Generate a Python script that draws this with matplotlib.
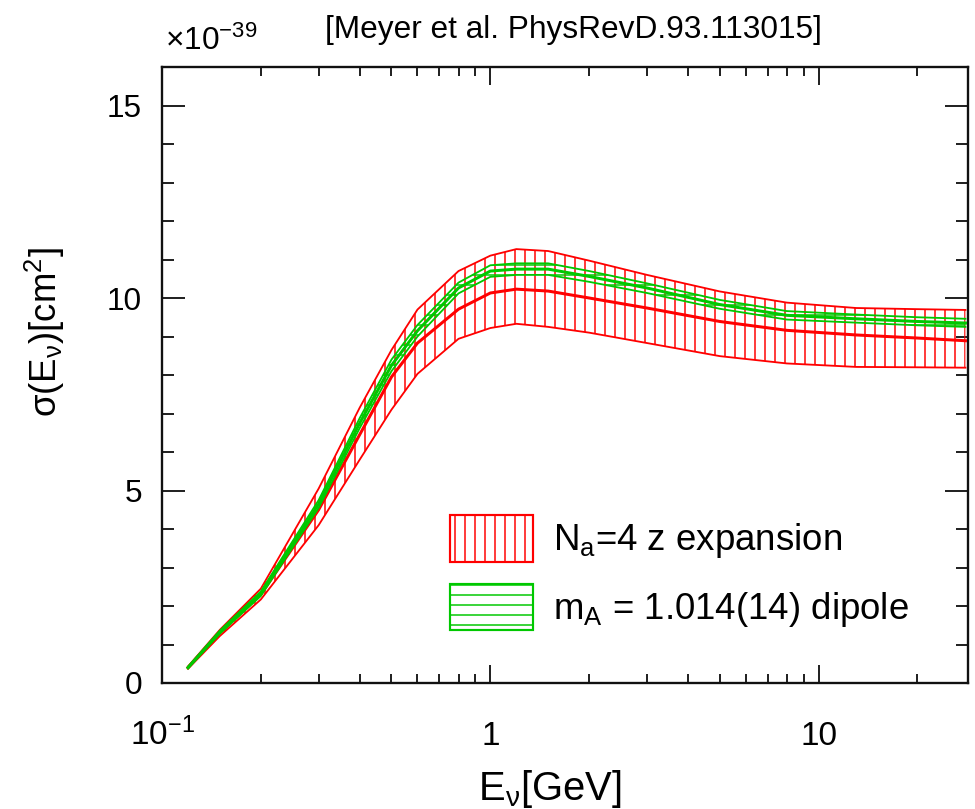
import matplotlib
matplotlib.use("Agg")
import matplotlib.pyplot as plt
from matplotlib.patches import Patch
from matplotlib.ticker import NullFormatter, MultipleLocator, FixedLocator, FixedFormatter

plt.rcParams['font.family'] = ['Liberation Sans', 'DejaVu Sans']
plt.rcParams['mathtext.fontset'] = 'custom'
plt.rcParams['mathtext.rm'] = 'Liberation Sans'
plt.rcParams['mathtext.it'] = 'Liberation Sans'
plt.rcParams['mathtext.bf'] = 'Liberation Sans:bold'
plt.rcParams['hatch.linewidth'] = 0.9

# ---- data (cross section in units of 1e-39 cm^2) ----
energy = [0.12, 0.15, 0.2, 0.3, 0.4, 0.5, 0.6, 0.8, 1.0, 1.2, 1.5, 2.0, 3.0, 5.0, 8.0, 13.0, 20.0, 28.0]
red_mid = [0.40, 1.30, 2.30, 4.50, 6.45, 7.95, 8.83, 9.71, 10.13, 10.23, 10.18, 10.00, 9.74, 9.39, 9.16, 9.04, 8.96, 8.89]
red_hi = [0.43, 1.38, 2.45, 5.05, 7.15, 8.65, 9.70, 10.70, 11.10, 11.27, 11.22, 10.97, 10.60, 10.17, 9.88, 9.74, 9.71, 9.69]
red_lo = [0.37, 1.22, 2.17, 4.10, 5.80, 7.10, 8.03, 8.94, 9.22, 9.33, 9.25, 9.10, 8.83, 8.49, 8.30, 8.21, 8.20, 8.19]
green_mid = [0.40, 1.32, 2.32, 4.65, 6.75, 8.25, 9.15, 10.26, 10.70, 10.75, 10.75, 10.56, 10.26, 9.83, 9.55, 9.46, 9.39, 9.35]
green_hi = [0.42, 1.36, 2.38, 4.75, 6.88, 8.40, 9.30, 10.40, 10.85, 10.90, 10.90, 10.70, 10.38, 9.95, 9.66, 9.57, 9.50, 9.46]
green_lo = [0.38, 1.28, 2.26, 4.55, 6.62, 8.10, 9.00, 10.12, 10.55, 10.60, 10.60, 10.42, 10.13, 9.72, 9.44, 9.36, 9.29, 9.25]

xticks = [0.1, 1, 10]
xtick_labels = ['10$^{-1}$', '1', '10']
yticks = [0, 5, 10, 15]
ytick_labels = ['0', '5', '10', '15']
labels = ['N$_{a}$=4 z expansion', 'm$_{A}$ = 1.014(14) dipole']

RED = '#ff0000'
GREEN = '#00c800'

DPI = 120
fig = plt.figure(figsize=(975 / DPI, 809 / DPI), dpi=DPI)
ax = fig.add_axes([162 / 975, 1 - 683 / 809, (968 - 162) / 975, (683 - 67) / 809])

# red band
ax.fill_between(energy, red_lo, red_hi, facecolor='none', edgecolor=RED,
                hatch='||', linewidth=0, zorder=2)
ax.plot(energy, red_hi, color=RED, lw=1.1, zorder=3)
ax.plot(energy, red_lo, color=RED, lw=1.1, zorder=3)
ax.plot(energy, red_mid, color=RED, lw=1.8, zorder=3)

# green band
ax.fill_between(energy, green_lo, green_hi, facecolor='none', edgecolor=GREEN,
                hatch='--', linewidth=0, zorder=4)
ax.plot(energy, green_hi, color=GREEN, lw=1.1, zorder=5)
ax.plot(energy, green_lo, color=GREEN, lw=1.1, zorder=5)
ax.plot(energy, green_mid, color=GREEN, lw=1.8, zorder=5)

ax.set_xscale('log')
ax.set_xlim(0.1, 28.5)
ax.set_ylim(0, 16)

ax.xaxis.set_major_locator(FixedLocator(xticks))
ax.xaxis.set_major_formatter(FixedFormatter(xtick_labels))
ax.xaxis.set_minor_formatter(NullFormatter())
ax.yaxis.set_major_locator(FixedLocator(yticks))
ax.yaxis.set_major_formatter(FixedFormatter(ytick_labels))
ax.yaxis.set_minor_locator(MultipleLocator(1))

for s in ax.spines.values():
    s.set_linewidth(1.4)
    s.set_color('#111111')

ax.tick_params(axis='both', which='both', direction='in', top=True, right=True,
               color='#111111', width=1.1)
ax.tick_params(axis='x', which='major', length=10.8, pad=37, labelsize=20)
ax.tick_params(axis='x', which='minor', length=5.4)
ax.tick_params(axis='y', which='major', length=13.8, pad=12, labelsize=19)
ax.tick_params(axis='y', which='minor', length=7.2)
for lbl in ax.get_xticklabels():
    lbl.set_va('baseline')

# legend
handles = [Patch(facecolor='none', edgecolor=RED, hatch='||', lw=1.3),
           Patch(facecolor='none', edgecolor=GREEN, hatch='--', lw=1.3)]
ax.legend(handles, labels, loc='upper left',
          bbox_to_anchor=((450 - 162) / 806, (683 - 515) / 616),
          frameon=False, fontsize=22, borderpad=0, borderaxespad=0,
          handlelength=2.26, handleheight=1.58, labelspacing=0.6,
          handletextpad=0.55)

# text
fig.text(573 / 975, 1 - 38 / 809, '[Meyer et al. PhysRevD.93.113015]',
         ha='center', va='baseline', fontsize=19)
fig.text(165 / 975, 1 - 50 / 809, '×10$^{-39}$', ha='left', va='baseline',
         fontsize=19)
fig.text(550 / 975, 1 - 800 / 809, 'E$_{ν}$[GeV]', ha='center', va='baseline',
         fontsize=24)
fig.text(45 / 975, 1 - 332 / 809, 'σ(E$_{ν}$)[cm$^{2}$]', ha='center', va='center',
         rotation=90, fontsize=22)

fig.savefig('out.png', dpi=DPI)
